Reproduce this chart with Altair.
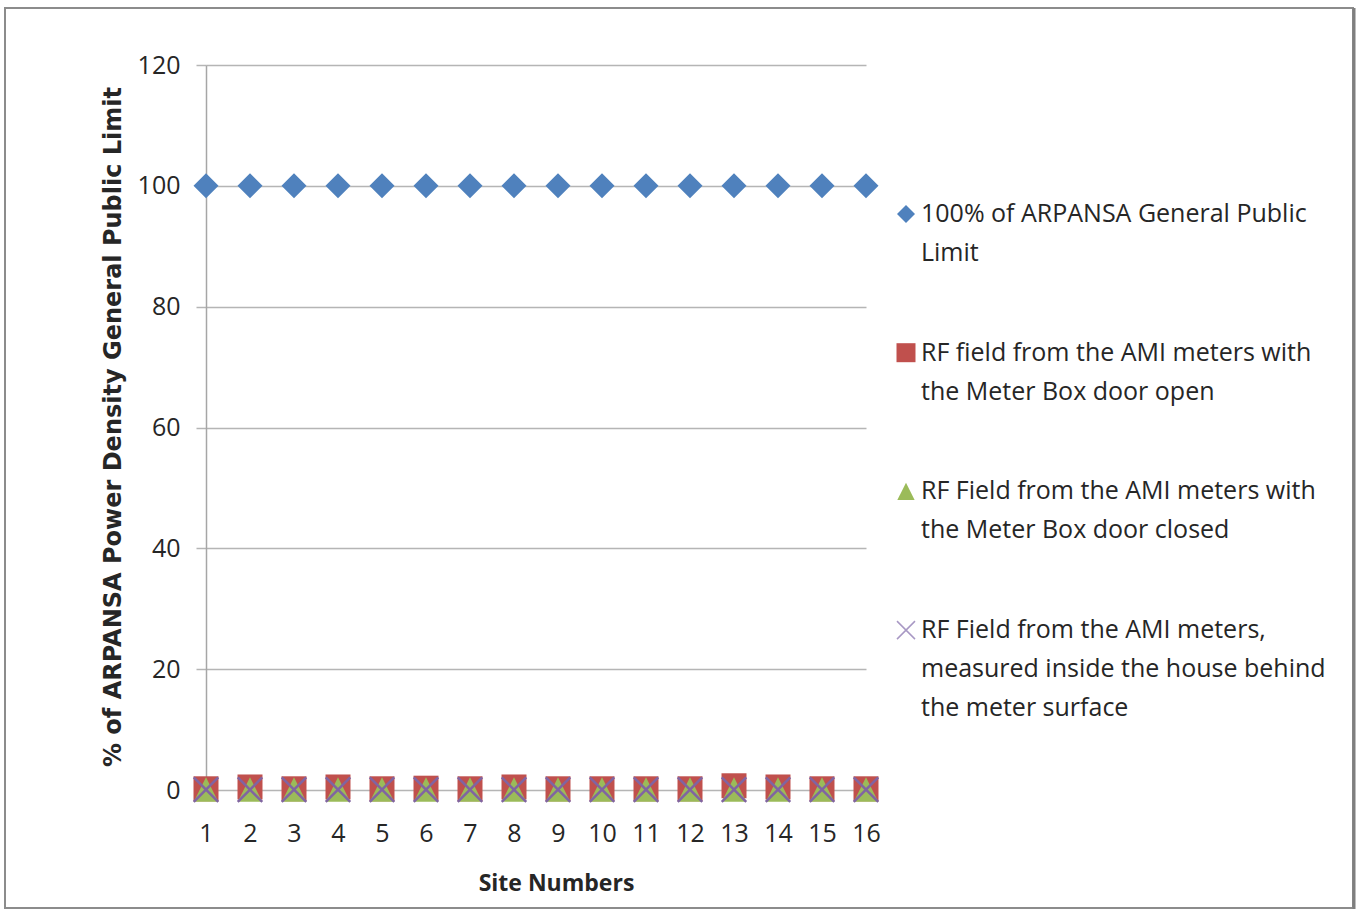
import altair as alt
import pandas as pd

# ---- data -------------------------------------------------------------
sites = list(range(1, 17))
limit_pct = [100] * 16
door_open = [0.2, 0.5, 0.2, 0.5, 0.2, 0.3, 0.2, 0.5, 0.2, 0.2, 0.2, 0.2, 0.7, 0.5, 0.2, 0.2]
door_closed = [0.1] * 16
inside_house = [0.05] * 16

series_names = [
    "100% of ARPANSA General Public Limit",
    "RF field from the AMI meters with the Meter Box door open",
    "RF Field from the AMI meters with the Meter Box door closed",
    "RF Field from the AMI meters, measured inside the house behind the meter surface",
]
legend_lines = [
    ["100% of ARPANSA General Public", "Limit"],
    ["RF field from the AMI meters with", "the Meter Box door open"],
    ["RF Field from the AMI meters with", "the Meter Box door closed"],
    ["RF Field from the AMI meters,", "measured inside the house behind", "the meter surface"],
]
y_ticks = [0, 20, 40, 60, 80, 100, 120]

# ---- styling ------------------------------------------------------------
FONT = "Open Sans"
TITLE_FONT = "DejaVu Sans"
TEXT = "#262626"
GRID = "#b5b5b5"
colors = ["#4F81BD", "#C0504D", "#9BBB59", "#8064A2"]
TRIANGLE = "M0,-1L1,1L-1,1Z"
CROSS = "M-1,-1L1,1M1,-1L-1,1"

W, H = 660, 725
PAD = {"left": 206, "top": 65, "right": 1359 - 206 - W, "bottom": 910 - 65 - H}

rows = []
for name, vals in zip(series_names, [limit_pct, door_open, door_closed, inside_house]):
    for s, v in zip(sites, vals):
        rows.append({"site": s, "value": v, "series": name})
df = pd.DataFrame(rows)

x_enc = alt.X(
    "site:Q",
    scale=alt.Scale(domain=[1, 16], nice=False, zero=False),
    axis=alt.Axis(
        values=sites, format="d", grid=False, ticks=False, domain=False,
        labelFont=FONT, labelFontSize=25, labelColor=TEXT,
        labelBaseline="middle", labelPadding=43, labelFlush=False,
        title="Site Numbers", titleFont=FONT, titleFontSize=23,
        titleFontWeight="bold", titleColor=TEXT,
        titleX=350, titleY=100, titleBaseline="alphabetic", titleAlign="center",
    ),
)
y_enc = alt.Y(
    "value:Q",
    scale=alt.Scale(domain=[0, 120], nice=False),
    axis=alt.Axis(
        values=y_ticks, grid=True, gridColor=GRID, gridWidth=1.5,
        tickSize=10, tickColor=GRID, tickWidth=1.5,
        domainColor="#a6a6a6", domainWidth=1.5,
        labelFont=FONT, labelFontSize=25, labelColor=TEXT, labelPadding=16,
        title="% of ARPANSA Power Density General Public Limit",
        titleFont=TITLE_FONT, titleFontSize=24, titleFontWeight="bold", titleColor=TEXT,
        titleX=-86, titleY=H / 2 - 1, titleAngle=270,
        titleBaseline="alphabetic", titleAlign="center",
    ),
)

base = alt.Chart(df).encode(x=x_enc, y=y_enc)

limit_pts = base.transform_filter(alt.datum.series == series_names[0]).mark_point(
    shape="diamond", filled=True, color=colors[0], size=625, opacity=1
)
open_pts = base.transform_filter(alt.datum.series == series_names[1]).mark_point(
    shape="square", filled=True, color=colors[1], size=625, opacity=1
)
closed_pts = base.transform_filter(alt.datum.series == series_names[2]).mark_point(
    shape=TRIANGLE, filled=True, color=colors[2], size=600, opacity=1
)
inside_pts = base.transform_filter(alt.datum.series == series_names[3]).mark_point(
    shape=CROSS, filled=False, stroke=colors[3], strokeWidth=2.5, size=600, opacity=1
)

one = pd.DataFrame({"k": [0]})

# chart frame
frame = alt.Chart(one).mark_rect(fill="transparent", stroke="#8c8c8c", strokeWidth=2).encode(
    x=alt.value(-201), x2=alt.value(1147), y=alt.value(-57), y2=alt.value(843)
)
frame_shadow = alt.Chart(one).mark_rule(stroke="#7f7f7f", strokeWidth=3).encode(
    x=alt.value(1148), y=alt.value(-57), y2=alt.value(844)
)

# legend
leg_shapes = ["diamond", "square", TRIANGLE, CROSS]
leg_sizes = [324, 361, 300, 324]
leg_layers = []
for i, (shape, size, lines) in enumerate(zip(leg_shapes, leg_sizes, legend_lines)):
    baseline_y = 157 + i * 138.7
    if shape == CROSS:
        sym = alt.Chart(one).mark_point(
            shape=shape, filled=False, stroke="#a898c4", strokeWidth=1.5, size=size, opacity=1
        )
    else:
        sym = alt.Chart(one).mark_point(shape=shape, filled=True, color=colors[i], size=size, opacity=1)
    leg_layers.append(sym.encode(x=alt.value(700), y=alt.value(baseline_y - 8)))
    leg_layers.append(
        alt.Chart(one).mark_text(
            align="left", baseline="alphabetic", font=FONT, fontSize=25, color=TEXT,
            lineBreak="\n", lineHeight=39,
        ).encode(x=alt.value(715), y=alt.value(baseline_y), text=alt.value("\n".join(lines)))
    )

chart = alt.layer(
    frame, frame_shadow, limit_pts, open_pts, closed_pts, inside_pts, *leg_layers
).properties(
    width=W, height=H, padding=PAD, autosize=alt.AutoSizeParams(type="none"),
    background="white",
).configure_view(stroke=None)

chart.save("out.html", embed_options={"renderer": "svg", "actions": False})
